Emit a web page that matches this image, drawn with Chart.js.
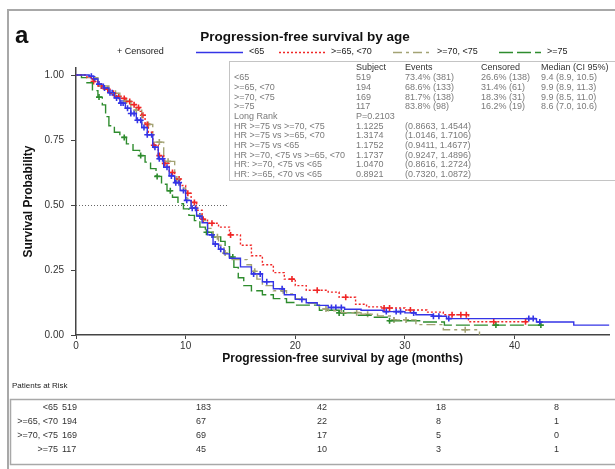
<!DOCTYPE html>
<html>
<head>
<meta charset="utf-8">
<script src="https://cdn.jsdelivr.net/npm/chart.js@4/dist/chart.umd.min.js"></script>
<style>
html, body { margin: 0; padding: 0; background: #fff; }
#wrap { width: 615px; height: 469px; }
</style>
</head>
<body>
<div id="wrap"><canvas id="kmChart" width="615" height="469"></canvas></div>
<script>
// groups
const groupNames = ["<65", ">=65, <70", ">=70, <75", ">=75"];
const groupColors = ["#3434e6", "#f02626", "#a3a374", "#2e8c2e"];
const groupDash = [[], [2, 2], [9, 4, 3, 4], [14, 4]];

// KM step points (months, survival)
const timesLt65 = [0, 1.2, 1.6, 2.0, 2.5, 3.0, 3.5, 4.0, 4.5, 5.0, 5.5, 6.0, 6.5, 7.0, 7.5, 8.0, 8.5, 9.0, 9.5, 10.0, 10.5, 11.0, 11.5, 12.0, 12.5, 13.0, 13.5, 14.0, 15.0, 16.0, 17.0, 18.0, 19.0, 20.0, 21.0, 22.0, 23.0, 24.5, 26.0, 28.0, 30.0, 31.0, 32.5, 33.8, 42.0, 45.4, 48.65];
const survLt65 = [1.0, 0.995, 0.985, 0.965, 0.95, 0.932, 0.912, 0.892, 0.872, 0.852, 0.826, 0.798, 0.77, 0.722, 0.678, 0.645, 0.612, 0.586, 0.556, 0.518, 0.488, 0.458, 0.432, 0.385, 0.35, 0.33, 0.312, 0.295, 0.262, 0.235, 0.205, 0.178, 0.155, 0.137, 0.124, 0.114, 0.106, 0.099, 0.095, 0.09, 0.085, 0.078, 0.072, 0.063, 0.05, 0.038, 0.038];
const censorLt65 = [1.4, 1.7, 2.1, 2.6, 3.1, 3.3, 3.7, 4.1, 4.3, 4.7, 5.0, 5.3, 5.6, 5.9, 6.2, 6.5, 6.9, 7.2, 7.6, 7.9, 8.3, 8.7, 9.1, 9.4, 9.8, 10.1, 10.6, 10.9, 11.3, 12.4, 12.7, 13.2, 16.2, 16.8, 17.4, 18.8, 20.6, 23.3, 23.7, 24.2, 28.3, 29.2, 29.6, 30.8, 32.6, 33.1, 34.0, 41.3, 41.7, 42.3];

const times65to70 = [0, 1.0, 1.5, 2.0, 2.5, 3.0, 3.5, 4.0, 4.5, 5.0, 5.5, 5.8, 6.0, 6.3, 6.6, 7.0, 7.5, 8.0, 8.5, 9.0, 9.5, 10.0, 10.5, 11.0, 11.5, 12.0, 13.0, 14.0, 15.0, 16.0, 17.0, 18.0, 19.0, 20.0, 21.0, 23.0, 24.0, 25.5, 26.5, 28.0, 30.0, 32.0, 33.5, 35.8, 41.2];
const surv65to70 = [1.0, 0.99, 0.975, 0.958, 0.945, 0.93, 0.918, 0.91, 0.898, 0.886, 0.875, 0.86, 0.845, 0.81, 0.78, 0.73, 0.69, 0.66, 0.625, 0.6, 0.575, 0.545, 0.51, 0.48, 0.445, 0.43, 0.415, 0.385, 0.345, 0.305, 0.27, 0.24, 0.215, 0.19, 0.172, 0.165, 0.145, 0.118, 0.108, 0.104, 0.096, 0.088, 0.078, 0.051, 0.051];
const censor65to70 = [1.6, 2.3, 2.9, 3.4, 3.9, 4.4, 4.9, 5.3, 5.7, 6.1, 6.5, 7.1, 7.6, 8.1, 8.8, 9.4, 10.2, 10.8, 11.6, 12.4, 14.1, 19.7, 22.0, 24.6, 28.1, 28.6, 30.5, 34.3, 35.1, 35.6, 38.1, 41.0];

const times70to75 = [0, 1.0, 2.0, 3.0, 4.0, 5.0, 6.0, 7.0, 8.0, 9.0, 9.5, 10.0, 10.5, 11.0, 11.5, 12.0, 12.5, 13.0, 13.5, 14.0, 15.6, 16.0, 16.5, 17.0, 18.0, 19.2, 20.0, 21.0, 22.2, 23.0, 24.2, 26.0, 27.5, 29.0, 31.0, 33.5, 36.8];
const surv70to75 = [1.0, 0.99, 0.958, 0.93, 0.9, 0.865, 0.81, 0.742, 0.668, 0.6, 0.565, 0.525, 0.49, 0.462, 0.44, 0.41, 0.378, 0.345, 0.315, 0.29, 0.27, 0.245, 0.215, 0.19, 0.17, 0.158, 0.14, 0.122, 0.1, 0.093, 0.086, 0.08, 0.073, 0.058, 0.04, 0.02, 0.0];
const censor70to75 = [3.6, 4.6, 5.5, 6.6, 7.6, 8.4, 9.2, 12.9, 13.6, 16.3, 18.9, 22.8, 25.6, 26.6, 29.0, 30.1, 35.5];

const timesGe75 = [0, 0.5, 1.0, 1.5, 2.0, 2.4, 2.7, 3.0, 3.5, 4.0, 4.6, 5.2, 5.8, 6.3, 6.8, 7.3, 7.8, 8.3, 8.8, 9.3, 9.8, 10.3, 10.8, 11.3, 11.8, 12.5, 13.2, 13.6, 14.0, 14.4, 14.8, 15.3, 16.0, 17.0, 18.0, 19.2, 20.0, 22.2, 24.0, 25.5, 27.0, 28.4, 31.5, 33.6, 42.5];
const survGe75 = [1.0, 0.99, 0.97, 0.94, 0.915, 0.885, 0.84, 0.805, 0.78, 0.76, 0.735, 0.71, 0.69, 0.665, 0.64, 0.61, 0.58, 0.555, 0.53, 0.505, 0.485, 0.46, 0.44, 0.415, 0.395, 0.377, 0.36, 0.34, 0.3, 0.26, 0.22, 0.19, 0.17, 0.155, 0.14, 0.125, 0.115, 0.095, 0.085, 0.076, 0.068, 0.055, 0.05, 0.038, 0.038];
const censorGe75 = [2.1, 4.4, 5.9, 7.4, 8.6, 11.9, 14.3, 24.0, 24.4, 28.6, 38.3, 42.4];

const xTicks = [0, 10, 20, 30, 40];
const yTicks = [0, 0.25, 0.5, 0.75, 1.0];

// summary table
const statHeader = ["", "Subject", "Events", "Censored", "Median (CI 95%)"];
const statRows = [
	["<65", "519", "73.4% (381)", "26.6% (138)", "9.4 (8.9, 10.5)"],
	[">=65, <70", "194", "68.6% (133)", "31.4% (61)", "9.9 (8.9, 11.3)"],
	[">=70, <75", "169", "81.7% (138)", "18.3% (31)", "9.9 (8.5, 11.0)"],
	[">=75", "117", "83.8% (98)", "16.2% (19)", "8.6 (7.0, 10.6)"],
	["Long Rank", "P=0.2103"],
	["HR >=75 vs >=70, <75", "1.1225", "(0.8663, 1.4544)"],
	["HR >=75 vs >=65, <70", "1.3174", "(1.0146, 1.7106)"],
	["HR >=75 vs <65", "1.1752", "(0.9411, 1.4677)"],
	["HR >=70, <75 vs >=65, <70", "1.1737", "(0.9247, 1.4896)"],
	["HR: >=70, <75 vs <65", "1.0470", "(0.8616, 1.2724)"],
	["HR: >=65, <70 vs <65", "0.8921", "(0.7320, 1.0872)"]
];

// patients at risk at 0, 10, 20, 30, 40 months
const riskLt65 = [519, 183, 42, 18, 8];
const risk65to70 = [194, 67, 22, 8, 1];
const risk70to75 = [169, 69, 17, 5, 0];
const riskGe75 = [117, 45, 10, 3, 1];

const FONT = "'Liberation Sans', Arial, sans-serif";

const allTimes = [timesLt65, times65to70, times70to75, timesGe75];
const allSurv = [survLt65, surv65to70, surv70to75, survGe75];
const allCensor = [censorLt65, censor65to70, censor70to75, censorGe75];
const allRisk = [riskLt65, risk65to70, risk70to75, riskGe75];

function survAt(times, surv, t) {
	let v = surv[0];
	for (let i = 0; i < times.length; i++) {
		if (times[i] <= t) v = surv[i];
		else break;
	}
	return v;
}

const datasets = [];
groupNames.forEach(function (name, g) {
	datasets.push({
		label: name,
		data: allTimes[g].map(function (t, i) { return { x: t, y: allSurv[g][i] }; }),
		showLine: true,
		stepped: "before",
		borderColor: groupColors[g],
		borderWidth: 1.4,
		borderDash: groupDash[g],
		pointRadius: 0,
		fill: false,
	});
});
groupNames.forEach(function (name, g) {
	datasets.push({
		label: name + " censored",
		data: allCensor[g].map(function (t) { return { x: t, y: survAt(allTimes[g], allSurv[g], t) }; }),
		showLine: false,
		pointStyle: "cross",
		pointRadius: 3,
		borderWidth: 1.6,
		borderColor: groupColors[g],
		backgroundColor: groupColors[g],
	});
});

// everything SAS draws around the plot
const decorPlugin = {
	id: "decor",
	beforeDatasetsDraw(chart) {
		const ctx = chart.ctx;
		const y50 = chart.scales.y.getPixelForValue(0.5);
		ctx.save();
		ctx.strokeStyle = "#666";
		ctx.lineWidth = 1;
		ctx.setLineDash([1, 2]);
		ctx.beginPath();
		ctx.moveTo(chart.chartArea.left, Math.round(y50) + 0.5);
		ctx.lineTo(229, Math.round(y50) + 0.5);
		ctx.stroke();
		ctx.restore();
	},
	afterDraw(chart) {
		const ctx = chart.ctx;
		ctx.save();

		// outer frame
		ctx.strokeStyle = "#a8a8a8";
		ctx.lineWidth = 2;
		ctx.beginPath();
		ctx.moveTo(8, 469);
		ctx.lineTo(8, 10);
		ctx.lineTo(620, 10);
		ctx.stroke();

		// panel letter and title
		ctx.fillStyle = "#111";
		ctx.textBaseline = "middle";
		ctx.font = "bold 24px " + FONT;
		ctx.textAlign = "left";
		ctx.fillText("a", 15, 36);
		ctx.font = "bold 13.5px " + FONT;
		ctx.textAlign = "center";
		ctx.fillText("Progression-free survival by age", 305, 37);

		// legend row
		const ly = 52;
		ctx.font = "9px " + FONT;
		ctx.textAlign = "left";
		ctx.fillStyle = "#222";
		ctx.fillText("+ Censored", 117, ly);
		const lx = [196, 279, 393, 499];
		const lw = [47, 46, 38, 42];
		groupNames.forEach(function (name, g) {
			ctx.strokeStyle = groupColors[g];
			ctx.lineWidth = 1.4;
			ctx.setLineDash(groupDash[g]);
			ctx.beginPath();
			ctx.moveTo(lx[g], ly + 0.5);
			ctx.lineTo(lx[g] + lw[g], ly + 0.5);
			ctx.stroke();
			ctx.setLineDash([]);
			ctx.fillStyle = "#222";
			ctx.fillText(name, lx[g] + lw[g] + 6, ly);
		});

		// summary inset
		ctx.fillStyle = "#fff";
		ctx.fillRect(229, 61, 400, 119);
		ctx.strokeStyle = "#c4c4c4";
		ctx.lineWidth = 1;
		ctx.strokeRect(229.5, 61.5, 400, 119);
		const cx = [234, 356, 405, 481, 541];
		ctx.font = "9px " + FONT;
		ctx.fillStyle = "#333";
		statHeader.forEach(function (txt, c) { ctx.fillText(txt, cx[c], 68); });
		ctx.fillStyle = "#7a7a7a";
		statRows.forEach(function (row, r) {
			row.forEach(function (txt, c) { ctx.fillText(txt, cx[c], 78 + r * 9.65); });
		});

		// patients at risk
		ctx.fillStyle = "#222";
		ctx.font = "8px " + FONT;
		ctx.fillText("Patients at Risk", 12, 386);
		ctx.strokeStyle = "#a8a8a8";
		ctx.lineWidth = 1.5;
		ctx.strokeRect(10.5, 399.5, 620, 65);
		ctx.font = "9px " + FONT;
		ctx.fillStyle = "#333";
		const rx = [62, 196, 317, 436, 554];
		groupNames.forEach(function (name, g) {
			const ry = 408 + g * 13.7;
			ctx.textAlign = "right";
			ctx.fillText(name, 58, ry);
			ctx.textAlign = "left";
			allRisk[g].forEach(function (n, k) { ctx.fillText(String(n), rx[k], ry); });
		});
		ctx.restore();
	},
};

new Chart(document.getElementById("kmChart").getContext("2d"), {
	type: "scatter",
	data: { datasets: datasets },
	plugins: [decorPlugin],
	options: {
		responsive: false,
		animation: false,
		devicePixelRatio: 1,
		layout: { padding: { left: 17, top: 68, right: 0, bottom: 99 } },
		plugins: { legend: { display: false }, tooltip: { enabled: false } },
		scales: {
			x: {
				type: "linear",
				min: 0,
				max: 48.65,
				afterBuildTicks: function (axis) { axis.ticks = xTicks.map(function (v) { return { value: v }; }); },
				afterFit: function (axis) { axis.height = 35; },
				ticks: { font: { family: FONT, size: 10 }, color: "#333", padding: 1, maxRotation: 0 },
				grid: { drawOnChartArea: false, drawTicks: true, tickLength: 4, color: "#444" },
				border: { color: "#444", width: 1.5 },
				title: { display: true, text: "Progression-free survival by age (months)", font: { family: FONT, size: 12, weight: "bold" }, color: "#111", padding: { top: 2, bottom: 4 } },
			},
			y: {
				type: "linear",
				min: 0,
				max: 1.027,
				afterBuildTicks: function (axis) { axis.ticks = yTicks.map(function (v) { return { value: v }; }); },
				afterFit: function (axis) { axis.width = 59; },
				ticks: { font: { family: FONT, size: 10 }, color: "#333", padding: 7, callback: function (v) { return v.toFixed(2); } },
				grid: { drawOnChartArea: false, drawTicks: true, tickLength: 5, color: "#444" },
				border: { color: "#444", width: 1.5 },
				title: { display: true, text: "Survival Probability", font: { family: FONT, size: 12, weight: "bold" }, color: "#111", padding: { top: 4, bottom: 2 } },
			},
		},
	},
});
</script>
</body>
</html>
